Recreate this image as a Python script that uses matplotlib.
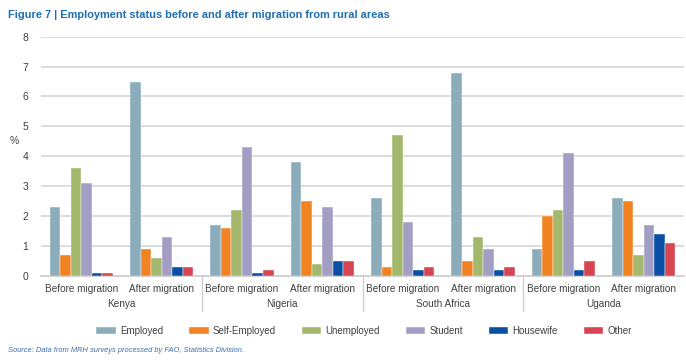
import matplotlib
matplotlib.use("Agg")
import matplotlib.pyplot as plt
import matplotlib.transforms as mtransforms
import numpy as np

plt.rcParams['font.family'] = ['Liberation Sans Narrow', 'Liberation Sans', 'DejaVu Sans']

countries = ["Kenya", "Nigeria", "South Africa", "Uganda"]
periods = ["Before migration", "After migration"]
series_names = ["Employed", "Self-Employed", "Unemployed", "Student", "Housewife", "Other"]
colors = ["#8AACBB", "#F28322", "#A3B86C", "#A39FC4", "#0A4FA3", "#D64550"]

# values per series, ordered Kenya before/after, Nigeria before/after, South Africa before/after, Uganda before/after
employed      = [2.3, 6.5, 1.7, 3.8, 2.6, 6.8, 0.9, 2.6]
self_employed = [0.7, 0.9, 1.6, 2.5, 0.3, 0.5, 2.0, 2.5]
unemployed    = [3.6, 0.6, 2.2, 0.4, 4.7, 1.3, 2.2, 0.7]
student       = [3.1, 1.3, 4.3, 2.3, 1.8, 0.9, 4.1, 1.7]
housewife     = [0.08, 0.3, 0.08, 0.5, 0.2, 0.2, 0.2, 1.4]
other         = [0.08, 0.3, 0.2, 0.5, 0.3, 0.3, 0.5, 1.1]
series = [employed, self_employed, unemployed, student, housewife, other]

yticks = [0, 1, 2, 3, 4, 5, 6, 7, 8]

fig = plt.figure(figsize=(6.86, 3.62), dpi=100)
ax = fig.add_axes([41/686, 1-275.7/362, (684-41)/686, (275.7-36.7)/362])

x = np.arange(len(countries) * len(periods))
w = 0.131
for j, (name, vals, c) in enumerate(zip(series_names, series, colors)):
    ax.bar(x + (j - 2.5) * w, vals, width=w, color=c, edgecolor='white',
           linewidth=0.3, label=name, zorder=3)

ax.set_xlim(-0.5, len(x) - 0.5)
ax.set_ylim(0, 8)
ax.set_yticks(yticks)
ax.yaxis.grid(True, color='#D9D9D9', linewidth=1.3, zorder=0)
ax.set_axisbelow(True)
for s in ['top', 'right', 'left']:
    ax.spines[s].set_visible(False)
ax.spines['bottom'].set_color('#D0D0D0')
ax.spines['bottom'].set_linewidth(1.3)
ax.tick_params(axis='y', length=0, pad=9, labelsize=7.5, labelcolor='#404040')
ax.tick_params(axis='x', length=0, labelbottom=False)

trans = mtransforms.blended_transform_factory(ax.transData, ax.transAxes)
ax_h = 275.7 - 36.7
for i in range(len(x)):
    ax.text(x[i], -13/ax_h, periods[i % 2], transform=trans, ha='center', va='center',
            fontsize=7.2, color='#404040')
for k, cn in enumerate(countries):
    ax.text(2*k + 0.5, -28/ax_h, cn, transform=trans, ha='center', va='center',
            fontsize=7.2, color='#404040')
for k in range(1, len(countries)):
    ax.plot([2*k - 0.5, 2*k - 0.5], [0, -35/ax_h], transform=trans, color='#D0D0D0',
            linewidth=1.0, clip_on=False)

ax.text(-27/643, 4.5, "%", transform=mtransforms.blended_transform_factory(ax.transAxes, ax.transData),
        ha='center', va='center', fontsize=7.5, color='#404040')

fig.text(8/686, 1-15/362, "Figure 7 | Employment status before and after migration from rural areas",
         ha='left', va='center', fontsize=7.9, fontweight='bold', color='#1F6EB4')
fig.text(8/686, 1-351/362, "Source: Data from MRH surveys processed by FAO, Statistics Division.",
         ha='left', va='center', fontsize=5.4, style='italic', color='#3B6DB5')

leg = fig.legend(loc='center', bbox_to_anchor=(364/686, 1-331/362), ncol=6, frameon=False,
                 fontsize=7, handlelength=2.0, handleheight=0.6, handletextpad=0.4,
                 columnspacing=2.7, labelcolor='#404040')

fig.savefig("out.png", dpi=100)
